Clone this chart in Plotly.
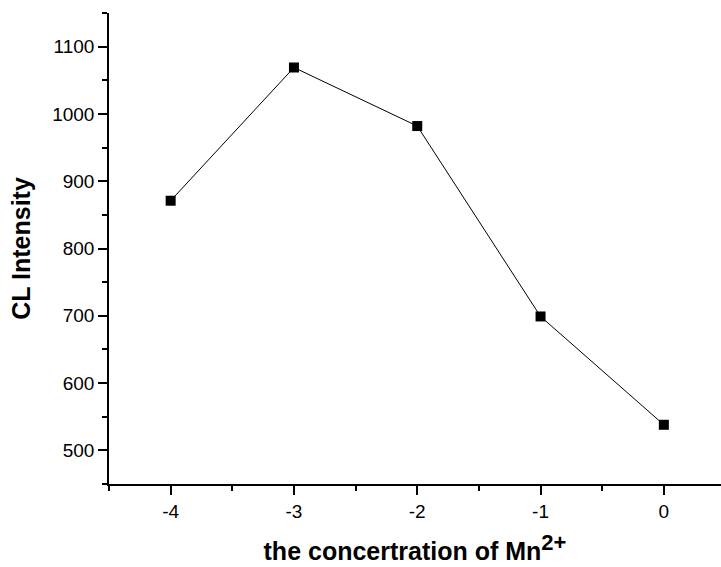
import plotly.graph_objects as go

x_vals = [-4, -3, -2, -1, 0]
cl_intensity = [871, 1069, 982, 699, 538]
x_ticks = [-4, -3, -2, -1, 0]
y_ticks = [500, 600, 700, 800, 900, 1000, 1100]

fig = go.Figure()
fig.add_trace(go.Scatter(
    x=x_vals, y=cl_intensity, mode="lines+markers",
    line=dict(color="black", width=1),
    marker=dict(symbol="square", size=10, color="black"),
    showlegend=False,
))

font_family = "Liberation Sans, Arial, sans-serif"
fig.update_layout(
    width=721, height=567,
    margin=dict(l=109, r=0, t=13, b=83),
    paper_bgcolor="white", plot_bgcolor="white",
    font=dict(family=font_family, color="black", size=19),
    xaxis=dict(
        range=[-4.5, -4.5 + 612 / 123.3],
        tickvals=x_ticks, ticktext=[str(v) for v in x_ticks],
        ticks="outside", ticklen=9, tickwidth=1.5, tickcolor="black",
        minor=dict(dtick=0.5, tick0=0, ticks="outside", ticklen=5, tickwidth=1.5, tickcolor="black"),
        showline=True, linecolor="black", linewidth=1.5,
        showgrid=False, zeroline=False,
        tickfont=dict(size=19),
        title=dict(text="<b>the concertration of Mn<sup><span style='font-size:22px'>2+</span></sup></b>",
                   font=dict(size=25), standoff=22),
    ),
    yaxis=dict(
        range=[450, 1150],
        tickvals=y_ticks, ticktext=[str(v) for v in y_ticks],
        ticks="outside", ticklen=9, tickwidth=1.5, tickcolor="black",
        minor=dict(dtick=50, tick0=0, ticks="outside", ticklen=5, tickwidth=1.5, tickcolor="black"),
        showline=True, linecolor="black", linewidth=1.5,
        showgrid=False, zeroline=False,
        tickfont=dict(size=19),
        title=dict(text="<b>CL Intensity</b>", font=dict(size=25), standoff=14),
    ),
)

fig.write_html("out.html")
